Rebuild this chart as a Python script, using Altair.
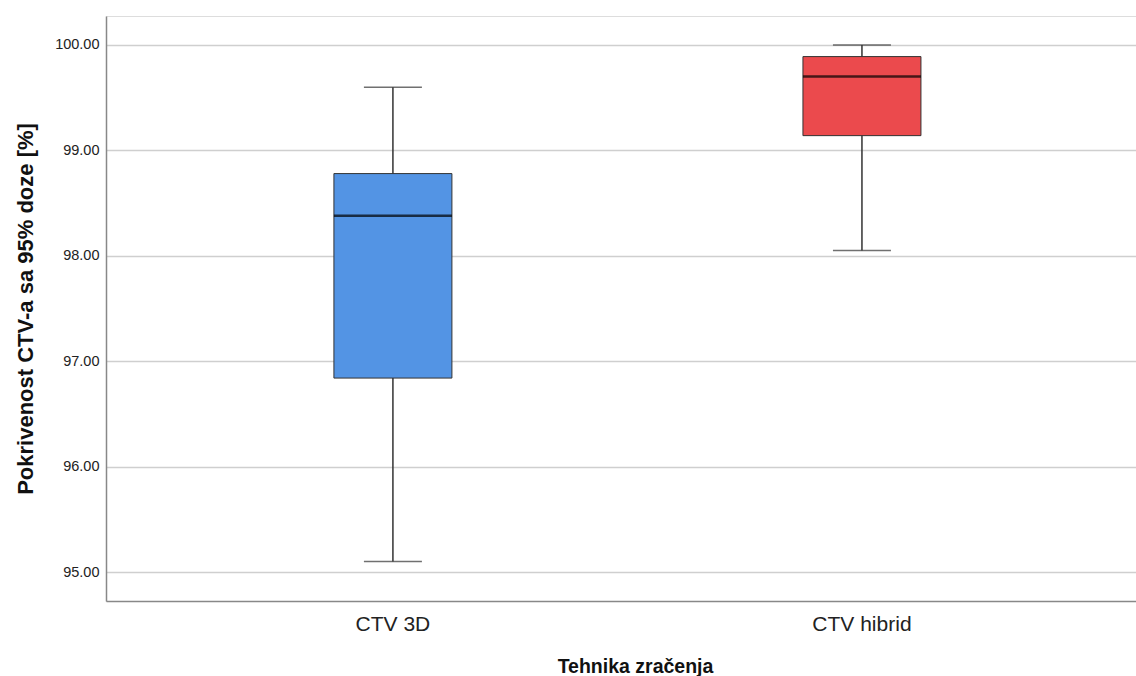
import altair as alt
import pandas as pd

# Box-plot summary per irradiation technique (coverage of CTV by 95% dose, %)
groups = ["CTV 3D", "CTV hibrid"]
whisker_low = [95.10, 98.05]
q1 = [96.84, 99.14]
median = [98.38, 99.70]
q3 = [98.78, 99.89]
whisker_high = [99.60, 100.00]
box_colors = ["#5394E4", "#EB4A4D"]
y_ticks = [95, 96, 97, 98, 99, 100]

df = pd.DataFrame({
    "group": groups,
    "low": whisker_low,
    "q1": q1,
    "median": median,
    "q3": q3,
    "high": whisker_high,
})

FONT = "Liberation Sans"
W, H = 1030, 585

x_enc = alt.X(
    "group:N",
    sort=groups,
    scale=alt.Scale(paddingInner=0, paddingOuter=0.098, align=0.57),
    axis=alt.Axis(
        title="Tehnika zračenja",
        labelAngle=0,
        ticks=False,
        grid=False,
        domainColor="#888888",
        domainWidth=1.5,
        labelFont=FONT,
        labelFontSize=21,
        labelColor="#222222",
        labelPadding=12,
        titleFont=FONT,
        titleFontSize=19.5,
        titleFontWeight="bold",
        titleColor="#111111",
        titleX=529,
        titleY=71,
        titleBaseline="alphabetic",
        titleAlign="center",
    ),
)

y_scale = alt.Scale(domain=[94.725, 100.275], nice=False, zero=False)
y_axis = alt.Axis(
    title="Pokrivenost CTV-a sa 95% doze [%]",
    values=y_ticks,
    format=".2f",
    ticks=False,
    tickSize=0,
    grid=True,
    gridColor="#cfcfcf",
    gridWidth=1.5,
    domainColor="#888888",
    domainWidth=1.5,
    labelFont=FONT,
    labelFontSize=14.5,
    labelColor="#222222",
    labelPadding=7,
    titleFont=FONT,
    titleFontSize=22,
    titleFontWeight="bold",
    titleColor="#111111",
    titleAngle=-90,
    titleX=-81,
    titleY=H / 2,
    titleAlign="center",
    titleBaseline="middle",
)

base = alt.Chart(df)

whiskers = base.mark_rule(color="#333333", strokeWidth=1.5).encode(
    x=x_enc,
    y=alt.Y("low:Q", scale=y_scale, axis=y_axis),
    y2="high:Q",
)

caps_low = base.mark_tick(color="#333333", thickness=1.5, size=58).encode(
    x=alt.X("group:N", sort=groups), y=alt.Y("low:Q")
)
caps_high = base.mark_tick(color="#333333", thickness=1.5, size=58).encode(
    x=alt.X("group:N", sort=groups), y=alt.Y("high:Q")
)

boxes = base.mark_bar(size=118, stroke="#333333", strokeWidth=1).encode(
    x=alt.X("group:N", sort=groups),
    y=alt.Y("q1:Q"),
    y2="q3:Q",
    color=alt.Color(
        "group:N",
        scale=alt.Scale(domain=groups, range=box_colors),
        legend=None,
    ),
)

medians = base.mark_tick(color="#000000", thickness=2.5, size=118).encode(
    x=alt.X("group:N", sort=groups), y=alt.Y("median:Q")
)

chart = (
    alt.layer(whiskers, caps_low, caps_high, boxes, medians)
    .properties(
        width=W,
        height=H,
        autosize=alt.AutoSizeParams(type="none"),
        padding={"left": 106, "top": 16, "right": 0, "bottom": 75},
    )
    .configure_view(stroke=None)
    .configure(background="white")
)

chart.save("out.html", embed_options={"renderer": "svg", "actions": False})
